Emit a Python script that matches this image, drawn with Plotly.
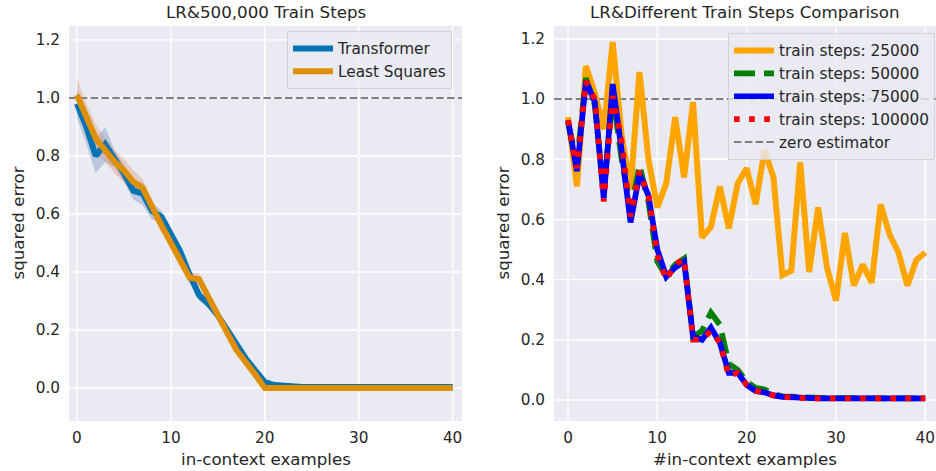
import plotly.graph_objects as go

# ---------------- data ----------------
context_sizes = list(range(41))

transformer_500k = [0.98, 0.90, 0.80, 0.84, 0.79, 0.74, 0.68, 0.67, 0.61, 0.59,
                    0.53, 0.47, 0.39, 0.32, 0.29, 0.25, 0.20, 0.15, 0.10, 0.06,
                    0.02, 0.01, 0.006, 0.004, 0.003, 0.003, 0.003, 0.003, 0.003, 0.003,
                    0.003, 0.003, 0.003, 0.003, 0.003, 0.003, 0.003, 0.003, 0.003, 0.003, 0.003]
transformer_500k_err = [0.05, 0.06, 0.06, 0.06, 0.03, 0.03, 0.03, 0.04, 0.03, 0.02,
                        0.02, 0.02, 0.02, 0.02, 0.015, 0.01, 0.01, 0.01, 0.01, 0.005,
                        0.005, 0.003, 0.002, 0.001, 0.001, 0.001, 0.001, 0.001, 0.001, 0.001,
                        0.001, 0.001, 0.001, 0.001, 0.001, 0.001, 0.001, 0.001, 0.001, 0.001, 0.001]
least_squares = [1.01, 0.93, 0.86, 0.82, 0.78, 0.75, 0.71, 0.69, 0.62, 0.56,
                 0.50, 0.44, 0.38, 0.375, 0.31, 0.245, 0.19, 0.13, 0.09, 0.045,
                 0.0, 0.0, 0.0, 0.0, 0.0, 0.0, 0.0, 0.0, 0.0, 0.0,
                 0.0, 0.0, 0.0, 0.0, 0.0, 0.0, 0.0, 0.0, 0.0, 0.0, 0.0]
least_squares_err = [0.06, 0.05, 0.05, 0.04, 0.04, 0.04, 0.04, 0.03, 0.02, 0.02,
                     0.02, 0.02, 0.02, 0.02, 0.01, 0.01, 0.01, 0.01, 0.01, 0.005,
                     0.0, 0.0, 0.0, 0.0, 0.0, 0.0, 0.0, 0.0, 0.0, 0.0,
                     0.0, 0.0, 0.0, 0.0, 0.0, 0.0, 0.0, 0.0, 0.0, 0.0, 0.0]

steps_25000 = [0.94, 0.71, 1.11, 1.02, 0.90, 1.19, 0.88, 0.70, 1.09, 0.80,
               0.64, 0.72, 0.94, 0.74, 0.99, 0.54, 0.575, 0.71, 0.57, 0.72,
               0.77, 0.65, 0.83, 0.74, 0.415, 0.43, 0.79, 0.425, 0.64, 0.44,
               0.33, 0.555, 0.38, 0.45, 0.39, 0.65, 0.55, 0.49, 0.38, 0.465, 0.49]
steps_50000 = [0.92, 0.79, 1.07, 0.98, 0.69, 1.02, 0.80, 0.63, 0.78, 0.66,
               0.46, 0.41, 0.45, 0.47, 0.21, 0.23, 0.29, 0.25, 0.12, 0.10,
               0.06, 0.04, 0.035, 0.02, 0.012, 0.01, 0.008, 0.007, 0.007, 0.006,
               0.006, 0.006, 0.005, 0.005, 0.005, 0.005, 0.005, 0.005, 0.005, 0.005, 0.005]
steps_75000 = [0.93, 0.76, 1.06, 0.99, 0.67, 1.05, 0.83, 0.59, 0.75, 0.68,
               0.50, 0.41, 0.44, 0.46, 0.21, 0.20, 0.24, 0.19, 0.09, 0.09,
               0.05, 0.03, 0.025, 0.015, 0.01, 0.008, 0.006, 0.005, 0.005, 0.005,
               0.005, 0.005, 0.005, 0.005, 0.005, 0.005, 0.005, 0.005, 0.005, 0.005, 0.005]
steps_100000 = [0.93, 0.77, 1.06, 1.00, 0.66, 1.01, 0.86, 0.61, 0.76, 0.68,
                0.48, 0.40, 0.45, 0.47, 0.20, 0.20, 0.23, 0.19, 0.08, 0.09,
                0.05, 0.03, 0.025, 0.015, 0.01, 0.007, 0.005, 0.005, 0.005, 0.005,
                0.005, 0.005, 0.005, 0.005, 0.005, 0.005, 0.005, 0.005, 0.005, 0.005, 0.005]
zero_estimator = 1.0

x_ticks = [0, 10, 20, 30, 40]
y_ticks = [0.0, 0.2, 0.4, 0.6, 0.8, 1.0, 1.2]

# ---------------- style ----------------
W, H = 936, 471
FONT = "DejaVu Sans"
TXT = "#262626"
BG = "#EAEAF2"

def px_x(p):
    return p / W

def px_y(p):
    return 1 - p / H

fig = go.Figure()

t_upper = [m + e for m, e in zip(transformer_500k, transformer_500k_err)]
t_lower = [m - e for m, e in zip(transformer_500k, transformer_500k_err)]
l_upper = [m + e for m, e in zip(least_squares, least_squares_err)]
l_lower = [m - e for m, e in zip(least_squares, least_squares_err)]

fig.add_trace(go.Scatter(x=context_sizes, y=t_upper, mode="lines", line=dict(width=0),
                         showlegend=False, hoverinfo="skip", xaxis="x", yaxis="y"))
fig.add_trace(go.Scatter(x=context_sizes, y=t_lower, mode="lines", line=dict(width=0),
                         fill="tonexty", fillcolor="rgba(76,114,176,0.3)",
                         showlegend=False, hoverinfo="skip", xaxis="x", yaxis="y"))
fig.add_trace(go.Scatter(x=context_sizes, y=l_upper, mode="lines", line=dict(width=0),
                         showlegend=False, hoverinfo="skip", xaxis="x", yaxis="y"))
fig.add_trace(go.Scatter(x=context_sizes, y=l_lower, mode="lines", line=dict(width=0),
                         fill="tonexty", fillcolor="rgba(221,132,82,0.3)",
                         showlegend=False, hoverinfo="skip", xaxis="x", yaxis="y"))
fig.add_trace(go.Scatter(x=context_sizes, y=transformer_500k, mode="lines", name="Transformer",
                         line=dict(color="#0173b2", width=6), xaxis="x", yaxis="y", legend="legend"))
fig.add_trace(go.Scatter(x=context_sizes, y=least_squares, mode="lines", name="Least Squares",
                         line=dict(color="#de8f05", width=6), xaxis="x", yaxis="y", legend="legend"))

fig.add_trace(go.Scatter(x=context_sizes, y=steps_25000, mode="lines", name="train steps: 25000",
                         line=dict(color="orange", width=6), xaxis="x2", yaxis="y2", legend="legend2"))
fig.add_trace(go.Scatter(x=context_sizes, y=steps_50000, mode="lines", name="train steps: 50000",
                         line=dict(color="green", width=5.7, dash="21px,9px"),
                         xaxis="x2", yaxis="y2", legend="legend2"))
fig.add_trace(go.Scatter(x=context_sizes, y=steps_75000, mode="lines", name="train steps: 75000",
                         line=dict(color="blue", width=5.7), xaxis="x2", yaxis="y2", legend="legend2"))
fig.add_trace(go.Scatter(x=context_sizes, y=steps_100000, mode="lines", name="train steps: 100000",
                         line=dict(color="red", width=5.7, dash="5.7px,9.4px"),
                         xaxis="x2", yaxis="y2", legend="legend2"))

# grid drawn as shapes (below traces) so the zero-estimator line can sit above it
GRID = dict(color="white", width=1.4)
for xa, ya in (("x", "y"), ("x2", "y2")):
    for t in x_ticks:
        fig.add_shape(type="line", xref=xa, yref=f"{ya} domain", x0=t, x1=t, y0=0, y1=1,
                      line=GRID, layer="below")
    for t in y_ticks:
        fig.add_shape(type="line", xref=f"{xa} domain", yref=ya, x0=0, x1=1, y0=t, y1=t,
                      line=GRID, layer="below")

# zero estimator lines
fig.add_shape(type="line", xref="x domain", yref="y", x0=0, x1=1, y0=zero_estimator, y1=zero_estimator,
              line=dict(color="#808080", width=2, dash="7.5px,3.3px"), layer="below")
fig.add_shape(type="line", xref="x2 domain", yref="y2", x0=0, x1=1, y0=zero_estimator, y1=zero_estimator,
              line=dict(color="#808080", width=2, dash="7.5px,3.3px"), layer="below",
              showlegend=True, name="zero estimator", legend="legend2", legendrank=2000)

axis_common = dict(showgrid=False, zeroline=False, showline=False, ticks="",
                   tickfont=dict(family=FONT, size=15.3, color=TXT))

top, bottom = 26, 421
fig.update_layout(
    width=W, height=H,
    margin=dict(l=0, r=0, t=0, b=0),
    paper_bgcolor="white", plot_bgcolor=BG,
    font=dict(family=FONT, color=TXT),
    xaxis=dict(domain=[px_x(69), px_x(462)], range=[-0.85, 41.0], tickvals=x_ticks,
               anchor="y", ticklabelstandoff=6, **axis_common),
    yaxis=dict(domain=[px_y(bottom), px_y(top)], range=[-0.114, 1.248], tickvals=y_ticks,
               tickformat=".1f", anchor="x", ticklabelstandoff=8, **axis_common),
    xaxis2=dict(domain=[px_x(554), 1.0], range=[-1.57, 41.2], tickvals=x_ticks,
                anchor="y2", ticklabelstandoff=6, **axis_common),
    yaxis2=dict(domain=[px_y(bottom), px_y(top)], range=[-0.07, 1.243], tickvals=y_ticks,
                tickformat=".1f", anchor="x2", ticklabelstandoff=8, **axis_common),
    legend=dict(x=px_x(287), y=px_y(31), xanchor="left", yanchor="top", traceorder="normal",
                bgcolor="rgba(234,234,242,0.8)", bordercolor="rgba(204,204,204,0.8)", borderwidth=1,
                font=dict(family=FONT, size=15.3, color=TXT), tracegroupgap=0, itemwidth=40),
    legend2=dict(x=px_x(728), y=px_y(33), xanchor="left", yanchor="top", traceorder="normal",
                 bgcolor="rgba(234,234,242,0.8)", bordercolor="rgba(204,204,204,0.8)", borderwidth=1,
                 font=dict(family=FONT, size=15.3, color=TXT), tracegroupgap=0, itemwidth=40),
)

def ann(text, xp, yp, angle=0, size=16.7):
    fig.add_annotation(text=text, x=px_x(xp), y=px_y(yp), xref="paper", yref="paper",
                       showarrow=False, xanchor="center", yanchor="middle", textangle=angle,
                       font=dict(family=FONT, size=size, color=TXT))

ann("LR&500,000 Train Steps", 265.5, 12)
ann("LR&Different Train Steps Comparison", 745, 12)
ann("in-context examples", 265.5, 459)
ann("#in-context examples", 745, 459)
ann("squared error", 17, 223.5, angle=-90)
ann("squared error", 502, 223.5, angle=-90)

fig.write_html("out.html", config={"displayModeBar": False},
               post_script="document.body.style.margin='0';document.body.style.overflow='hidden';")
